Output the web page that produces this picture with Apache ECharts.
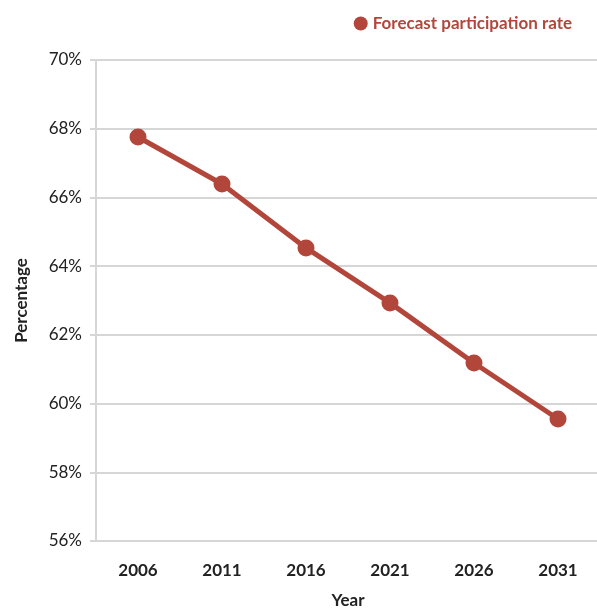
<!DOCTYPE html>
<html>
<head>
<meta charset="utf-8">
<script src="https://cdn.jsdelivr.net/npm/echarts@6/dist/echarts.min.js"></script>
<style>
  html, body { margin: 0; padding: 0; background: #fff; }
  #chart { width: 597px; height: 610px; }
</style>
</head>
<body>
<div id="chart"></div>
<script>
// data
const years = ['2006', '2011', '2016', '2021', '2026', '2031']
const participationRate = [67.76, 66.39, 64.53, 62.93, 61.18, 59.55]
const seriesName = 'Forecast participation rate'

const yMin = 56
const yMax = 70
const yStep = 2

const red = '#b3463b'
const font = 'Lato'

const chart = echarts.init(document.getElementById('chart'))

const option = {
  animation: false,
  textStyle: { fontFamily: font },
  legend: {
    data: [seriesName],
    top: 10,
    right: 20,
    icon: 'circle',
    itemWidth: 14,
    itemHeight: 14,
    itemGap: 8,
    textStyle: { color: red, fontSize: 17, fontWeight: 'bold', fontFamily: font },
  },
  grid: {
    left: 96,
    right: -3,
    top: 60,
    bottom: 69,
    outerBoundsMode: 'none',
  },
  xAxis: {
    type: 'category',
    data: years,
    boundaryGap: true,
    name: 'Year',
    nameLocation: 'middle',
    nameGap: 51,
    nameTextStyle: { fontSize: 17, fontWeight: 'bold', color: '#222', fontFamily: font },
    axisLine: { lineStyle: { color: '#d6d6d6', width: 2 } },
    axisTick: { show: false },
    axisLabel: { margin: 21, fontSize: 17, fontWeight: 'bold', color: '#222', fontFamily: font },
  },
  yAxis: {
    type: 'value',
    min: yMin,
    max: yMax,
    interval: yStep,
    name: 'Percentage',
    nameLocation: 'middle',
    nameGap: 66,
    nameTextStyle: { fontSize: 17, fontWeight: 'bold', color: '#222', fontFamily: font },
    axisLine: { show: true, lineStyle: { color: '#d6d6d6', width: 2 } },
    axisTick: { show: true, length: 6, lineStyle: { color: '#d6d6d6', width: 2 } },
    axisLabel: {
      margin: 14,
      fontSize: 17,
      color: '#222',
      fontFamily: font,
      formatter: (v) => v + '%',
    },
    splitLine: { lineStyle: { color: '#d6d6d6', width: 2 } },
  },
  series: [
    {
      name: seriesName,
      type: 'line',
      data: participationRate,
      symbol: 'circle',
      symbolSize: 17,
      lineStyle: { color: red, width: 5 },
      itemStyle: { color: red },
    },
  ],
}

chart.setOption(option)
</script>
</body>
</html>
